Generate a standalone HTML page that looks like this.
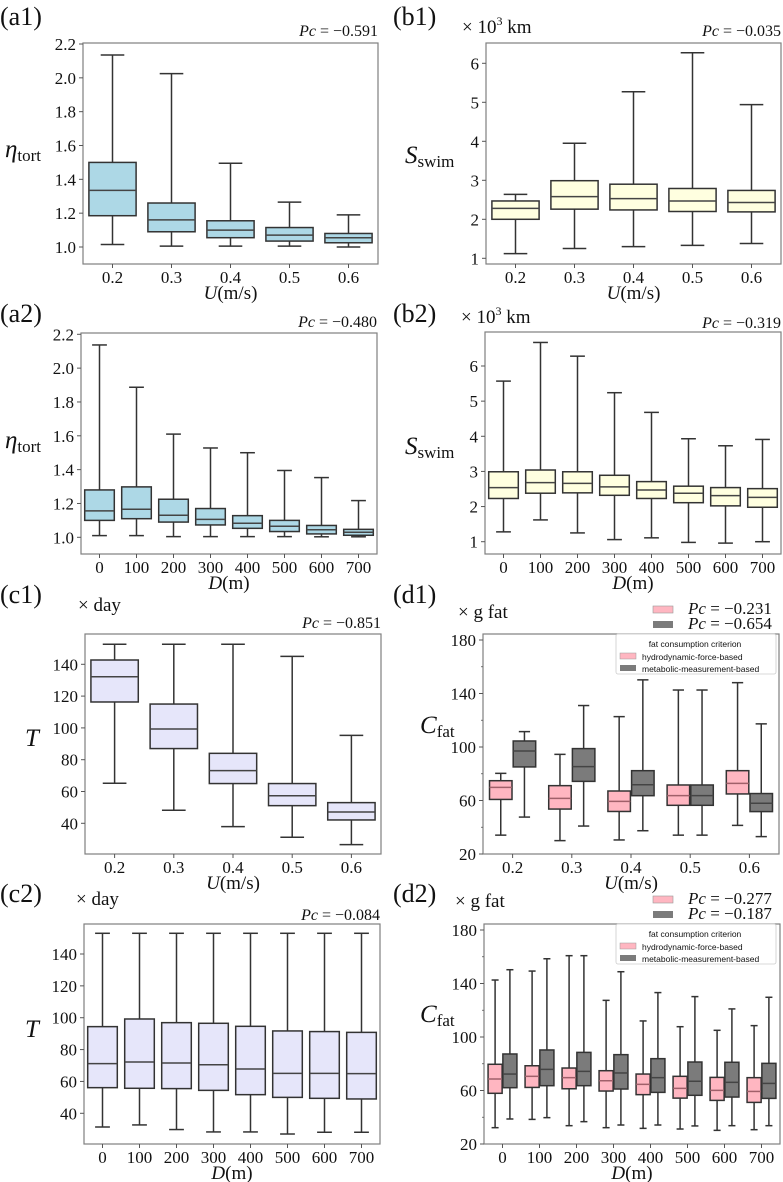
<!DOCTYPE html>
<html><head><meta charset="utf-8"><style>
html,body{margin:0;padding:0;background:#fff;}
svg{display:block;font-family:"Liberation Serif",serif;}
</style></head><body>
<svg id="fig" width="783" height="1182" viewBox="0 0 783 1182" xmlns="http://www.w3.org/2000/svg"></svg>
<script>
// ---- data ----
const catsU = ["0.2","0.3","0.4","0.5","0.6"];
const catsD = ["0","100","200","300","400","500","600","700"];
// (a1) eta_tort vs U
const a1Lo=[1.015,1.005,1.005,1.005,1.0];
const a1Q1=[1.185,1.09,1.055,1.035,1.025];
const a1Med=[1.335,1.16,1.10,1.07,1.055];
const a1Q3=[1.50,1.26,1.155,1.115,1.08];
const a1Hi=[2.135,2.025,1.495,1.265,1.19];
// (a2) eta_tort vs D
const a2Lo=[1.01,1.01,1.004,1.004,1.004,1.004,1.003,1.003];
const a2Q1=[1.10,1.11,1.09,1.073,1.053,1.034,1.02,1.012];
const a2Med=[1.156,1.166,1.13,1.106,1.083,1.065,1.045,1.03];
const a2Q3=[1.28,1.298,1.225,1.17,1.128,1.10,1.07,1.047];
const a2Hi=[2.137,1.887,1.61,1.528,1.50,1.395,1.353,1.217];
// (b1) S_swim vs U
const b1Lo=[1.12,1.25,1.30,1.33,1.38];
const b1Q1=[2.0,2.26,2.24,2.2,2.19];
const b1Med=[2.28,2.58,2.53,2.47,2.43];
const b1Q3=[2.47,2.99,2.9,2.79,2.74];
const b1Hi=[2.64,3.95,5.27,6.27,4.94];
// (b2) S_swim vs D
const b2Lo=[1.28,1.62,1.25,1.06,1.11,0.98,0.96,1.00];
const b2Q1=[2.23,2.38,2.39,2.32,2.23,2.11,2.02,1.98];
const b2Med=[2.54,2.68,2.66,2.56,2.47,2.38,2.31,2.26];
const b2Q3=[2.99,3.04,2.99,2.89,2.71,2.58,2.54,2.51];
const b2Hi=[5.57,6.67,6.28,5.24,4.68,3.93,3.73,3.91];
// (c1) T vs U
const c1Lo=[65.2,48.2,37.9,31.2,26.6];
const c1Q1=[116.3,87,65,51.1,42.1];
const c1Med=[132.2,99.3,73.1,57.3,47.1];
const c1Q3=[142.7,115,84,65,53];
const c1Hi=[152.6,152.6,152.6,145,95.3];
// (c2) T vs D
const c2Lo=[31.4,32.7,29.8,28.3,28.3,27,28.1,28.1];
const c2Q1=[56.1,55.7,55.5,54.4,51.7,50,49.4,49];
const c2Med=[71.2,72.2,71.6,70.5,67.8,65.1,65.1,64.9];
const c2Q3=[94.4,99.2,96.9,96.5,94.6,91.7,91.3,90.8];
const c2Hi=[153,153,153,153,153,153,153,153];
// (d1) C_fat vs U : hydro (pink) & metabolic (gray)
const d1HLo=[34.1,30,30.5,34.1,41.4];
const d1HQ1=[60.8,53.6,51.8,56.4,64.9];
const d1HMed=[69.8,61.6,59.3,63.6,72.8];
const d1HQ3=[74.8,71.1,67.1,71.6,82.3];
const d1HHi=[80.3,94.5,122.7,142.6,148.1];
const d1MLo=[47.6,40.9,37.4,34.1,33];
const d1MQ1=[85.1,74.3,63.6,56.4,51.7];
const d1MMed=[97,85.3,71.8,63.6,57.9];
const d1MQ3=[104.5,98.8,82.3,71.6,65.2];
const d1MHi=[111.5,131,150.2,142.6,117.3];
// (d2) C_fat vs D
const d2HLo=[32.2,38.4,33.7,32.2,31.7,31.2,30.2,30.7];
const d2HQ1=[57.9,62.3,61.3,59.6,56.9,54.3,52.6,51.1];
const d2HMed=[68.6,70.6,69.6,67.3,64.6,61.6,60.1,59.3];
const d2HQ3=[79.6,78.5,76.8,74.8,72.3,70.6,69.8,69.6];
const d2HHi=[142.6,149.3,160.8,127.4,112,107.7,105,108.5];
const d2MLo=[38.7,39.7,36.7,34.2,34.2,33.5,33.7,33.7];
const d2MQ1=[62.1,63.6,63.6,61.1,58.6,56.4,55.1,54.1];
const d2MMed=[72.3,75.8,74.3,73.1,69.6,66.9,66.1,65.3];
const d2MQ3=[87.3,90.3,88.5,86.8,83.8,81.3,81.1,80.3];
const d2MHi=[150.3,158.5,160.8,148.8,133.2,130.2,121,129.7];
const aTicks=[1.0,1.2,1.4,1.6,1.8,2.0,2.2];
const bTicks=[1,2,3,4,5,6];
const cTicks=[40,60,80,100,120,140];
const dTicks=[20,60,100,140,180];
const dMinor=[40,80,120,160];

const NS="http://www.w3.org/2000/svg";
const svg=document.getElementById('fig');
function mk(tag,attrs,parent){const e=document.createElementNS(NS,tag);for(const k in attrs)e.setAttribute(k,attrs[k]);(parent||svg).appendChild(e);return e;}
function txt(s,x,y,size,parent,anchor,extra){const t=mk('text',Object.assign({x:x,y:y,'font-size':size+'px','text-anchor':anchor||'start',fill:'#111'},extra||{}),parent);t.innerHTML=s;return t;}

function panel(o){
  const g=mk('g',{});
  
  
  const {x0,x1,y0,y1}=o;
  const ys=v=>o.p1+(v-o.v1)*(o.p2-o.p1)/(o.v2-o.v1);
  const n=o.cats.length, sp=(x1-x0)/n;
  const xs=i=>x0+sp*(i+0.5);
  const fr=mk('rect',{x:x0,y:y0,width:x1-x0,height:y1-y0,fill:'none',stroke:'#7f7f7f','stroke-width':1.2},g);
  
  
  o.ticks.forEach(v=>{const y=ys(v);
    mk('line',{x1:x0-4,x2:x0,y1:y,y2:y,stroke:'#555','stroke-width':1},g);
    const t=txt(o.fmt(v),x0-7,y+6,17,g,'end');
    
    
  });
  (o.minor||[]).forEach(v=>{const y=ys(v);mk('line',{x1:x0-2,x2:x0,y1:y,y2:y,stroke:'#555','stroke-width':0.8},g);});
  o.cats.forEach((c,i)=>{const x=xs(i);
    mk('line',{x1:x,x2:x,y1:y1,y2:y1+4,stroke:'#555','stroke-width':1},g);
    const t=txt(c,x,y1+19,17,g,'middle');
    
    
  });
  o.series.forEach((s,si)=>{
    const bw=sp*s.w, off=sp*s.off;
    for(let i=0;i<n;i++){
      const cx=xs(i)+off, cw=bw*0.5;
      const bg=mk('g',{},g);
      
      
      const sc='#333';
      mk('line',{x1:cx,x2:cx,y1:ys(s.hi[i]),y2:ys(s.q3[i]),stroke:sc,'stroke-width':1.5},bg);
      mk('line',{x1:cx,x2:cx,y1:ys(s.q1[i]),y2:ys(s.lo[i]),stroke:sc,'stroke-width':1.5},bg);
      mk('line',{x1:cx-cw/2,x2:cx+cw/2,y1:ys(s.hi[i]),y2:ys(s.hi[i]),stroke:sc,'stroke-width':1.5},bg);
      mk('line',{x1:cx-cw/2,x2:cx+cw/2,y1:ys(s.lo[i]),y2:ys(s.lo[i]),stroke:sc,'stroke-width':1.5},bg);
      mk('rect',{x:cx-bw/2,y:ys(s.q3[i]),width:bw,height:ys(s.q1[i])-ys(s.q3[i]),fill:s.color,stroke:sc,'stroke-width':1.5},bg);
      mk('line',{x1:cx-bw/2,x2:cx+bw/2,y1:ys(s.med[i]),y2:ys(s.med[i]),stroke:s.medc||'#444','stroke-width':1.5},bg);
    }
  });
  let t=txt(o.label,o.lx,o.ly,26,g);
  if(o.pc){t=txt('<tspan font-style="italic">Pc</tspan> = −'+o.pc,x1,o.pcy,16,g,'end');}
  if(o.unit){t=txt(o.unit,o.ux,o.uy,19,g);}
  t=txt(o.xt,(x0+x1)/2,y1+35,19,g,'middle');
  t=txt(o.yt,o.yx,o.yy,25,g);
  return g;
}
const f1=v=>v.toFixed(1), f0=v=>String(v);
const xU='<tspan font-style="italic">U</tspan>(m/s)', xD='<tspan font-style="italic">D</tspan>(m)';
const yEta='<tspan font-style="italic">η</tspan><tspan font-size="17px" dy="4">tort</tspan>';
const ySw='<tspan font-style="italic">S</tspan><tspan font-size="17px" dy="4">swim</tspan>';
const yC='<tspan font-style="italic">C</tspan><tspan font-size="17px" dy="4">fat</tspan>';
const yT='<tspan font-style="italic">T</tspan>';
const one=(lo,q1,med,q3,hi,color)=>[{key:'main',lo,q1,med,q3,hi,color,w:0.8,off:0,medc:'#444'}];
const two=(a,b)=>[Object.assign({key:'hydro',color:'#ffb6c1',w:0.38,off:-0.2,medc:'#a0606a'},a),Object.assign({key:'metab',color:'#7b7b7b',w:0.38,off:0.2,medc:'#444'},b)];
const kmUnit='× 10<tspan font-size="12px" dy="-8">3</tspan><tspan dy="8"> km</tspan>';

panel({name:'panel-a1',x0:83,x1:378,y0:43,y1:264,v1:2.2,p1:44,v2:1.0,p2:247,ticks:aTicks,fmt:f1,cats:catsU,
  series:one(a1Lo,a1Q1,a1Med,a1Q3,a1Hi,'#add8e6'),label:'(a1)',lx:0,ly:25,pc:'0.591',pcy:36,xt:xU,yt:yEta,yx:5,yy:157});
panel({name:'panel-a2',x0:81,x1:377,y0:333,y1:554,v1:2.2,p1:334.3,v2:1.0,p2:537.3,ticks:aTicks,fmt:f1,cats:catsD,
  series:one(a2Lo,a2Q1,a2Med,a2Q3,a2Hi,'#add8e6'),label:'(a2)',lx:0,ly:322,pc:'0.480',pcy:327,xt:xD,yt:yEta,yx:5,yy:448});
panel({name:'panel-c1',x0:85,x1:381,y0:634,y1:854,v1:140,p1:664.3,v2:40,p2:823.3,ticks:cTicks,fmt:f0,cats:catsU,
  series:one(c1Lo,c1Q1,c1Med,c1Q3,c1Hi,'#e6e6fa'),label:'(c1)',lx:0,ly:603,pc:'0.851',pcy:628,unit:'× day',ux:78,uy:611,xt:xU,yt:yT,yx:25,yy:746});
panel({name:'panel-c2',x0:84,x1:380,y0:924,y1:1144,v1:140,p1:954,v2:40,p2:1113.3,ticks:cTicks,fmt:f0,cats:catsD,
  series:one(c2Lo,c2Q1,c2Med,c2Q3,c2Hi,'#e6e6fa'),label:'(c2)',lx:0,ly:902,pc:'0.084',pcy:920,unit:'× day',ux:76,uy:905,xt:xD,yt:yT,yx:25,yy:1037});
panel({name:'panel-b1',x0:486,x1:781,y0:43,y1:264,v1:6,p1:63.3,v2:1,p2:258.3,ticks:bTicks,fmt:f0,cats:catsU,
  series:one(b1Lo,b1Q1,b1Med,b1Q3,b1Hi,'#ffffe0'),label:'(b1)',lx:393,ly:25,pc:'0.035',pcy:36,unit:kmUnit,ux:462,uy:33,xt:xU,yt:ySw,yx:405,yy:163});
panel({name:'panel-b2',x0:485,x1:781,y0:332,y1:554,v1:6,p1:366,v2:1,p2:541.7,ticks:bTicks,fmt:f0,cats:catsD,
  series:one(b2Lo,b2Q1,b2Med,b2Q3,b2Hi,'#ffffe0'),label:'(b2)',lx:393,ly:322,pc:'0.319',pcy:328,unit:kmUnit,ux:461,uy:323,xt:xD,yt:ySw,yx:405,yy:454});
panel({name:'panel-d1',x0:483,x1:779,y0:634,y1:854,v1:180,p1:640,v2:20,p2:854,ticks:dTicks,minor:dMinor,fmt:f0,cats:catsU,
  series:two({lo:d1HLo,q1:d1HQ1,med:d1HMed,q3:d1HQ3,hi:d1HHi},{lo:d1MLo,q1:d1MQ1,med:d1MMed,q3:d1MQ3,hi:d1MHi}),
  label:'(d1)',lx:393,ly:603,unit:'× g fat',ux:458,uy:618,xt:xU,yt:yC,yx:420,yy:733});
panel({name:'panel-d2',x0:484,x1:780,y0:924,y1:1144,v1:180,p1:930,v2:20,p2:1144,ticks:dTicks,minor:dMinor,fmt:f0,cats:catsD,
  series:two({lo:d2HLo,q1:d2HQ1,med:d2HMed,q3:d2HQ3,hi:d2HHi},{lo:d2MLo,q1:d2MQ1,med:d2MMed,q3:d2MQ3,hi:d2MHi}),
  label:'(d2)',lx:393,ly:902,unit:'× g fat',ux:455,uy:907,xt:xD,yt:yC,yx:420,yy:1022});

function legends(oy,pcA,pcB,name){
  const g=mk('g',{});
  
  
  mk('rect',{x:653,y:oy,width:20,height:7,fill:'#ffb6c1',stroke:'#999','stroke-width':0.6},g);
  mk('rect',{x:653,y:oy+15,width:20,height:7,fill:'#7b7b7b'},g);
  txt('<tspan font-style="italic">Pc</tspan> = −'+pcA,688,oy+8,17,g);
  txt('<tspan font-style="italic">Pc</tspan> = −'+pcB,688,oy+23,17,g);
  const ly=oy+28;
  mk('rect',{x:616,y:ly,width:160,height:40,fill:'#fff','fill-opacity':0.85,stroke:'#ccc','stroke-width':0.8,rx:2},g);
  txt('fat consumption criterion',695,ly+13,8.5,g,'middle',{'font-family':'Liberation Sans,sans-serif'});
  mk('rect',{x:620,y:ly+19,width:16,height:6,fill:'#ffb6c1',stroke:'#999','stroke-width':0.5},g);
  mk('rect',{x:620,y:ly+31,width:16,height:6,fill:'#7b7b7b'},g);
  txt('hydrodynamic-force-based',642,ly+26,8.5,g,'start',{'font-family':'Liberation Sans,sans-serif'});
  txt('metabolic-measurement-based',642,ly+38,8.5,g,'start',{'font-family':'Liberation Sans,sans-serif'});
}
legends(606,'0.231','0.654','legend-d1');
legends(896,'0.277','0.187','legend-d2');
</script>
</body></html>
